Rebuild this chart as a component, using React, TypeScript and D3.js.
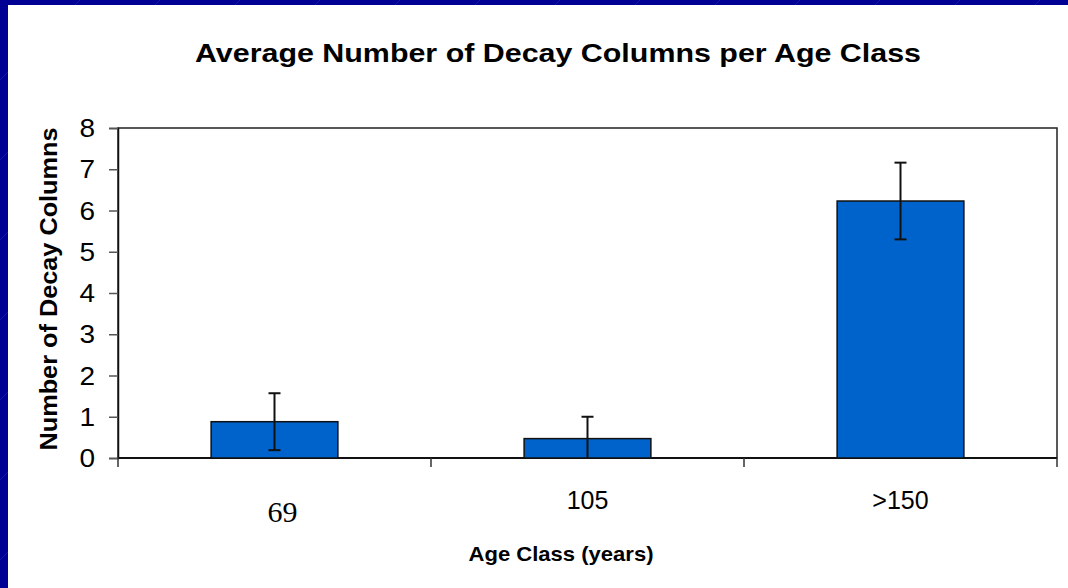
import { useEffect, useRef } from "react";
import * as d3 from "d3";

const categories = ["69", "105", ">150"];
const means = [0.88, 0.47, 6.23];
const errors = [0.69, 0.53, 0.93];
const yTicks = [0, 1, 2, 3, 4, 5, 6, 7, 8];

const title = "Average Number of Decay Columns per Age Class";
const xTitle = "Age Class (years)";
const yTitle = "Number of Decay Columns";

export default function App() {
  const svgRef = useRef<SVGSVGElement | null>(null);

  useEffect(() => {
    const svgElement = svgRef.current;
    if (!svgElement) return;

    const width = 1068;
    const height = 588;
    const plot = { left: 118, right: 1057, top: 128, bottom: 458 };

    const svg = d3.select(svgElement);
    svg.selectAll("*").remove();
    svg.attr("viewBox", `0 0 ${width} ${height}`);

    // slide frame
    svg.append("rect").attr("width", width).attr("height", height).attr("fill", "#000094");
    const stripes = svg.append("g").attr("stroke", "#3a3ab8").attr("stroke-width", 0.6).attr("opacity", 0.6);
    d3.range(-600, 1100, 80).forEach((x0) => {
      stripes.append("line").attr("x1", x0).attr("y1", 600).attr("x2", x0 + 600).attr("y2", 0);
    });
    svg.append("rect").attr("x", 8).attr("y", 5).attr("width", width - 8).attr("height", height - 5).attr("fill", "#fff");

    const x = d3.scaleBand().domain(categories).range([plot.left, plot.right]).paddingInner(0).paddingOuter(0);
    const y = d3.scaleLinear().domain([0, 8]).range([plot.bottom, plot.top]);
    const barWidth = x.bandwidth() * 0.405;

    // title
    svg
      .append("text")
      .attr("x", 558)
      .attr("y", 62)
      .attr("text-anchor", "middle")
      .attr("font-family", "Liberation Sans, Arial, sans-serif")
      .attr("font-weight", "bold")
      .attr("font-size", 26)
      .attr("textLength", 726)
      .attr("lengthAdjust", "spacingAndGlyphs")
      .text(title);

    // plot frame
    svg
      .append("rect")
      .attr("x", plot.left)
      .attr("y", plot.top)
      .attr("width", plot.right - plot.left)
      .attr("height", plot.bottom - plot.top)
      .attr("fill", "none")
      .attr("stroke", "#222")
      .attr("stroke-width", 1.5);

    // y axis
    const yAxis = svg
      .append("g")
      .attr("transform", `translate(${plot.left},0)`)
      .call(d3.axisLeft(y).tickValues(yTicks).tickSize(9).tickPadding(13).tickFormat(d3.format("d")));
    yAxis.attr("font-size", null).attr("font-family", null);
    yAxis.select(".domain").attr("stroke", "#111").attr("stroke-width", 1.5);
    yAxis.selectAll(".tick line").attr("stroke", "#555").attr("stroke-width", 1.5);
    yAxis
      .selectAll(".tick text")
      .attr("font-family", "Liberation Sans, Arial, sans-serif")
      .attr("font-size", 25)
      .attr("fill", "#000")
      .attr("dy", "0.34em")
      .attr("transform", "scale(1.12,1)")
      .attr("x", -23 / 1.12);

    // x axis ticks on band edges
    const edges = [plot.left, ...categories.map((c) => (x(c) ?? 0) + x.bandwidth())];
    const xAxisG = svg.append("g");
    xAxisG
      .append("line")
      .attr("x1", plot.left)
      .attr("x2", plot.right)
      .attr("y1", plot.bottom)
      .attr("y2", plot.bottom)
      .attr("stroke", "#111")
      .attr("stroke-width", 2);
    xAxisG
      .selectAll("line.edge")
      .data(edges)
      .join("line")
      .attr("class", "edge")
      .attr("x1", (d) => d)
      .attr("x2", (d) => d)
      .attr("y1", plot.bottom)
      .attr("y2", plot.bottom + 9)
      .attr("stroke", "#333")
      .attr("stroke-width", 1.5);

    // bars
    svg
      .append("g")
      .selectAll("rect")
      .data(categories)
      .join("rect")
      .attr("x", (c) => (x(c) ?? 0) + x.bandwidth() / 2 - barWidth / 2)
      .attr("y", (_, i) => y(means[i]))
      .attr("width", barWidth)
      .attr("height", (_, i) => y(0) - y(means[i]))
      .attr("fill", "#0063CC")
      .attr("stroke", "#111")
      .attr("stroke-width", 1.5);

    // error bars
    const err = svg.append("g").attr("stroke", "#111").attr("stroke-width", 2);
    categories.forEach((c, i) => {
      const cx = (x(c) ?? 0) + x.bandwidth() / 2;
      const hi = y(means[i] + errors[i]);
      const lo = y(Math.max(0, means[i] - errors[i]));
      err.append("line").attr("x1", cx).attr("x2", cx).attr("y1", hi).attr("y2", lo);
      err.append("line").attr("x1", cx - 6).attr("x2", cx + 6).attr("y1", hi).attr("y2", hi);
      if (means[i] - errors[i] > 0) {
        err.append("line").attr("x1", cx - 6).attr("x2", cx + 6).attr("y1", lo).attr("y2", lo);
      }
    });

    // category labels (first one in a serif face, as in the source)
    svg
      .append("g")
      .selectAll("text")
      .data(categories)
      .join("text")
      .attr("x", (c, i) => (x(c) ?? 0) + x.bandwidth() / 2 + (i === 0 ? 8 : 0))
      .attr("y", (_, i) => (i === 0 ? 522 : 509))
      .attr("text-anchor", "middle")
      .attr("font-family", (_, i) =>
        i === 0 ? "Liberation Serif, Times New Roman, serif" : "Liberation Sans, Arial, sans-serif"
      )
      .attr("font-size", (_, i) => (i === 0 ? 30 : 25))
      .attr("fill", "#000")
      .text((c) => c);

    // axis titles
    svg
      .append("text")
      .attr("x", 561)
      .attr("y", 561)
      .attr("text-anchor", "middle")
      .attr("font-family", "Liberation Sans, Arial, sans-serif")
      .attr("font-weight", "bold")
      .attr("font-size", 21)
      .attr("textLength", 185)
      .attr("lengthAdjust", "spacingAndGlyphs")
      .text(xTitle);

    svg
      .append("text")
      .attr("transform", `translate(57,289) rotate(-90)`)
      .attr("text-anchor", "middle")
      .attr("font-family", "Liberation Sans, Arial, sans-serif")
      .attr("font-weight", "bold")
      .attr("font-size", 23)
      .attr("textLength", 323)
      .attr("lengthAdjust", "spacingAndGlyphs")
      .text(yTitle);
  }, []);

  return (
    <svg
      ref={svgRef}
      width={1068}
      height={588}
      style={{ position: "absolute", left: 0, top: 0, display: "block" }}
      role="img"
      aria-label={title}
    />
  );
}
